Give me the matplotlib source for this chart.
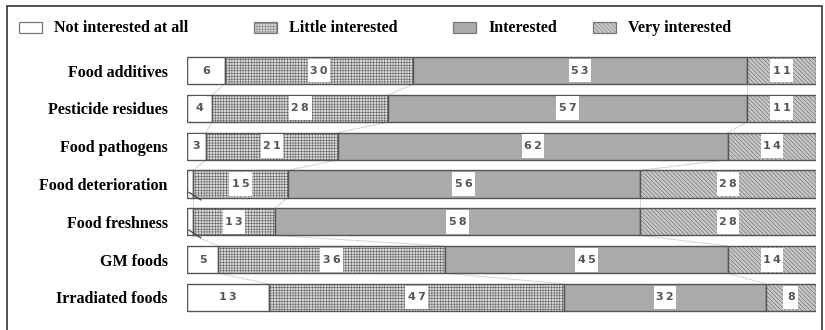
import matplotlib.pyplot as plt
from matplotlib.patches import Rectangle
import numpy as np

categories = ["Food additives", "Pesticide residues", "Food pathogens",
              "Food deterioration", "Food freshness", "GM foods",
              "Irradiated foods"]
levels = ["Not interested at all", "Little interested", "Interested",
          "Very interested"]
not_interested = [6, 4, 3, 1, 1, 5, 13]
little_interested = [30, 28, 21, 15, 13, 36, 47]
interested = [53, 57, 62, 56, 58, 45, 32]
very_interested = [11, 11, 14, 28, 28, 14, 8]

series = [not_interested, little_interested, interested, very_interested]
faces = ["white", "#d8d8d8", "#aaaaaa", "#c8c8c8"]
hatches = [None, "++++++", None, "\\\\\\\\\\\\\\\\"]

plt.rcParams["hatch.color"] = "#acacac"
plt.rcParams["hatch.linewidth"] = 0.35

fig = plt.figure(figsize=(8.25, 3.3), dpi=100)
ax = fig.add_axes([187 / 825, 1 - 316.4 / 330, 629 / 825, 264.8 / 330])

y = np.arange(len(categories))
bar_h = 0.72
left = np.zeros(len(categories))
for vals, fc, h, name in zip(series, faces, hatches, levels):
    vals = np.array(vals, dtype=float)
    ax.barh(y, vals, left=left, height=bar_h, color=fc, hatch=h,
            edgecolor="#555555", linewidth=1.0, label=name, zorder=2)
    for yi, v, l in zip(y, vals, left):
        if v <= 1:
            # tiny segment: short leader instead of a number
            ax.plot([l + v * 0.3, l + v * 2.2], [yi + 0.22, yi + 0.42],
                    color="#444444", lw=0.9, zorder=4)
            continue
        txt = "\u2009".join(str(int(v)))
        box_w = 3.6 if v >= 10 else 2.4
        ax.barh(yi, box_w, left=l + v / 2 - box_w / 2, height=bar_h * 0.88,
                color="white", linewidth=0, zorder=4)
        ax.text(l + v / 2, yi, txt, ha="center", va="center", fontsize=8,
                fontweight="bold", color="#555555", family="DejaVu Sans",
                zorder=5)
    left += vals

# series lines joining the segment boundaries of adjacent bars
cum = np.cumsum(np.array(series, dtype=float), axis=0)
for k in range(3):
    for i in range(len(categories) - 1):
        ax.plot([cum[k, i], cum[k, i + 1]],
                [y[i] + bar_h / 2, y[i + 1] - bar_h / 2],
                color="#d4d4d4", lw=0.7, zorder=1)

ax.set_xlim(0, 100)
ax.set_ylim(len(categories) - 0.5, -0.5)
ax.set_yticks(y)
ax.set_yticklabels(categories, fontsize=11.5, fontweight="bold",
                   family="Liberation Serif")
ax.tick_params(axis="y", length=0, pad=14)
ax.set_xticks([])
for s in ax.spines.values():
    s.set_visible(False)

# legend row across the top
leg_x = [19, 254, 453, 593]
for name, fc, h, x0 in zip(levels, faces, hatches, leg_x):
    fig.patches.append(Rectangle((x0 / 825, 1 - 33 / 330), 23 / 825, 11 / 330,
                                 transform=fig.transFigure, facecolor=fc,
                                 hatch=h, edgecolor="#777777", lw=0.9))
    fig.text((x0 + 35) / 825, 1 - 28 / 330, name, fontsize=11.5,
             fontweight="bold", family="Liberation Serif", va="center",
             ha="left")

# outer frame
fig.patches.append(Rectangle((7 / 825, -0.1), 815 / 825, 1.1 - 6 / 330,
                             transform=fig.transFigure, fill=False,
                             edgecolor="#333333", lw=1.2))

plt.savefig("out.png", dpi=100)
